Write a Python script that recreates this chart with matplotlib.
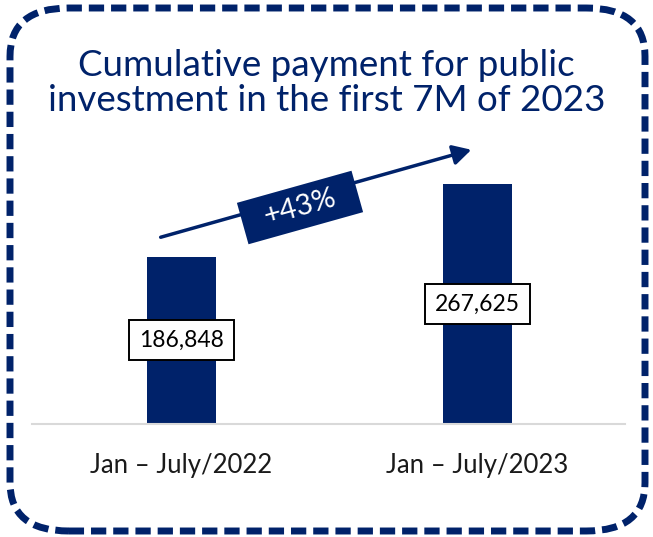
import matplotlib.pyplot as plt
from matplotlib.patches import FancyBboxPatch, Rectangle, FancyArrowPatch

periods = ["Jan – July/2022", "Jan – July/2023"]
payments = [186848, 267625]
growth_label = "+43%"

navy = "#00226a"

plt.rcParams['font.family'] = ['Lato', 'DejaVu Sans']

fig = plt.figure(figsize=(6.53, 5.37), dpi=100)
ax = fig.add_axes([32 / 653, 113 / 537, 593 / 653, 295.4 / 537])

xs = list(range(len(payments)))
ax.bar(xs, payments, width=0.233, color=navy, zorder=2)
ax.set_xlim(-0.505, 1.498)
ax.set_ylim(0, 330000)

# value boxes sit halfway up each bar
for x, v in zip(xs, payments):
    ax.text(x, v / 2, f"{v:,}", ha="center", va="center", fontsize=16.5,
            color="black", zorder=3,
            bbox=dict(boxstyle="square,pad=0.42", fc="white", ec="black", lw=1.4))

for s in ["top", "right", "left"]:
    ax.spines[s].set_visible(False)
ax.spines["bottom"].set_color("#d9d9d9")
ax.spines["bottom"].set_linewidth(1.5)
ax.set_yticks([])
ax.set_xticks(xs)
ax.set_xticklabels(periods, fontsize=18.5, color="#1a1a1a")
ax.tick_params(axis="x", length=0, pad=21)

fig.text(0.5, 1 - 83 / 537, "Cumulative payment for public\ninvestment in the first 7M of 2023",
         ha="center", va="center", fontsize=26.5, color=navy, linespacing=1.1)

# growth arrow with the rotated tag
fig.patches.append(FancyArrowPatch(
    (158 / 653, 1 - 238 / 537), (474 / 653, 1 - 149 / 537),
    transform=fig.transFigure, arrowstyle="-|>,head_length=11,head_width=6",
    color=navy, lw=2.5, mutation_scale=1))
fig.patches.append(Rectangle((3.0 - 0.595, 3.295 - 0.215), 1.19, 0.43, angle=15.66,
                             rotation_point="center", transform=fig.dpi_scale_trans,
                             fc=navy, ec="none", zorder=5))
fig.text(3.0, 3.295, growth_label, transform=fig.dpi_scale_trans, ha="center",
         va="center", rotation=15.66, rotation_mode="anchor", fontsize=21,
         color="white", zorder=6)

# dashed rounded frame
fig.patches.append(FancyBboxPatch((10 / 653, 1 - 531 / 537), 635 / 653, 523 / 537,
                                  boxstyle="round,pad=0,rounding_size=0.09",
                                  transform=fig.transFigure, fill=False, ec=navy,
                                  lw=5, linestyle=(0, (2.2, 1))))

fig.savefig("out.png", dpi=100)
